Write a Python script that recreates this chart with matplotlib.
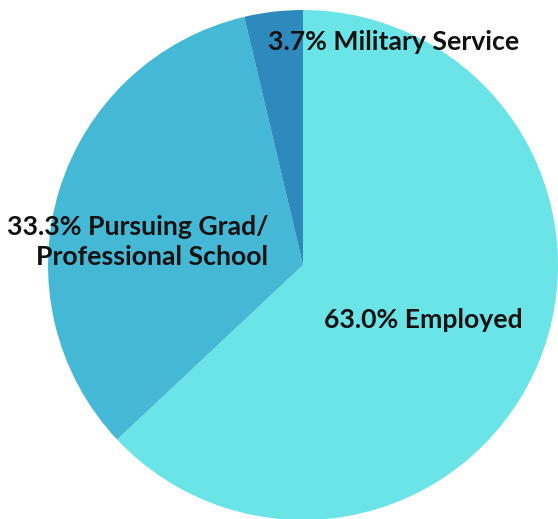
import matplotlib.pyplot as plt

# data
labels = ["Employed", "Pursuing Grad/\nProfessional School", "Military Service"]
shares = [63.0, 33.3, 3.7]
colors = ["#6be4e8", "#45b8d6", "#2e89bc"]

fig = plt.figure(figsize=(5.58, 5.19), dpi=100)
ax = fig.add_axes([0, 0, 1, 1])

wedges, _ = ax.pie(shares, colors=colors, startangle=90, counterclock=False,
                   radius=1.0, wedgeprops=dict(linewidth=0))

font = dict(family=["Lato", "DejaVu Sans"], fontweight="bold", fontsize=19.2, color="#111111")

# label positions in pie units
ax.text(0.47, -0.216, f"{shares[0]:.1f}% {labels[0]}", ha="center", va="center", **font)
ax.text(-0.137, 0.09, f"{shares[1]:.1f}% {labels[1]}", ha="right", va="center",
        multialignment="right", linespacing=1.3, **font)
ax.text(-0.137, 0.875, f"{shares[2]:.1f}% {labels[2]}", ha="left", va="center", **font)

ax.set_xlim(-303 / 255, 255 / 255)
ax.set_ylim(-254 / 255, 265 / 255)
ax.set_aspect("equal")
ax.axis("off")

fig.savefig("out.png", dpi=100)
